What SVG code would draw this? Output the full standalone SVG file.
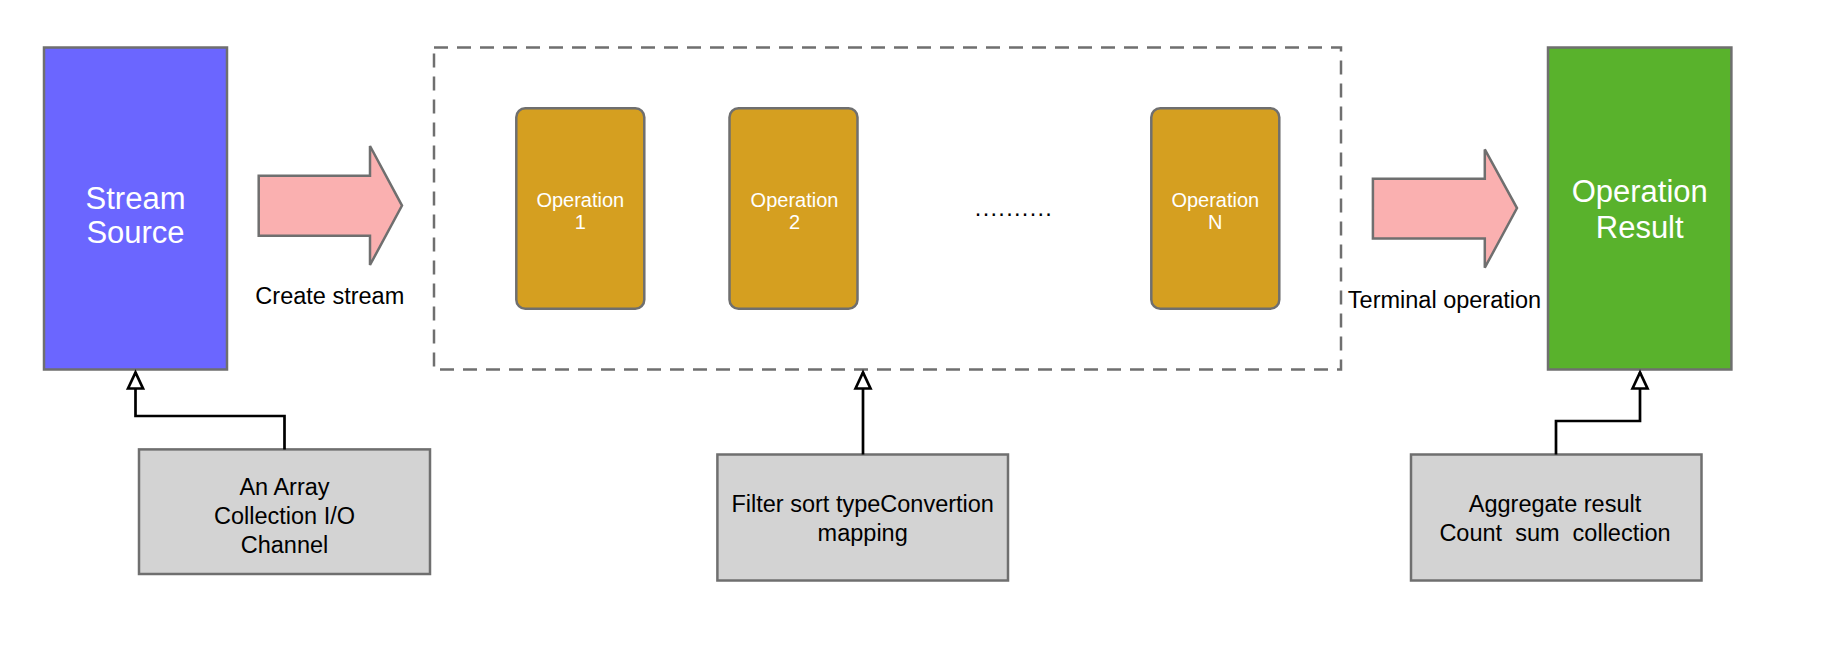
<svg xmlns="http://www.w3.org/2000/svg" width="1822" height="658" viewBox="0 0 1822 658">
<style>
text{font-family:"Liberation Sans",Arial,Helvetica,sans-serif;text-anchor:middle}
.big{font-size:31px;fill:#ffffff}
.op{font-size:20px;fill:#ffffff}
.lbl{font-size:23.5px;fill:#000000}
.box{stroke:#6f6f6f;stroke-width:2.5}
.src{fill:#6b66ff}
.res{fill:#59b22c}
.opbox{fill:#d59f20}
.note{fill:#d3d3d3}
.fat{fill:#fab0b0;stroke:#6f6f6f;stroke-width:2.5;stroke-linejoin:miter}
.conn{fill:none;stroke:#000000;stroke-width:2.7}
</style>
<defs>
<marker id="open" markerUnits="userSpaceOnUse" markerWidth="24" markerHeight="24" viewBox="-2 -10 24 20" refX="17" refY="0" orient="auto">
<path d="M1,-7.5 L17,0 L1,7.5 Z" fill="#ffffff" stroke="#000000" stroke-width="2.7" stroke-linejoin="miter"/>
</marker>
</defs>
<rect width="1822" height="658" fill="#ffffff"/>
<g id="pipeline">
<rect x="434" y="47.5" width="907" height="322" fill="none" stroke="#6f6f6f" stroke-width="2.5" stroke-dasharray="14 9"/>
</g>
<g id="stream-source">
<rect class="box src" x="44" y="47.5" width="183" height="322"/>
<text class="big" x="135.5" y="208.6">Stream</text>
<text class="big" x="135.5" y="243.4">Source</text>
</g>
<g id="op1">
<rect class="box opbox" x="516.3" y="108.3" width="128" height="200.5" rx="9"/>
<text class="op" x="580.3" y="206.5">Operation</text>
<text class="op" x="580.3" y="228.7">1</text>
</g>
<g id="op2">
<rect class="box opbox" x="729.5" y="108.3" width="128" height="200.5" rx="9"/>
<text class="op" x="794.5" y="206.5">Operation</text>
<text class="op" x="794.5" y="228.7">2</text>
</g>
<g id="dots">
<text class="lbl" x="1014" y="215.5" style="letter-spacing:1.3px">..........</text>
</g>
<g id="opN">
<rect class="box opbox" x="1151.3" y="108.3" width="128" height="200.5" rx="9"/>
<text class="op" x="1215.3" y="206.5">Operation</text>
<text class="op" x="1215.3" y="228.7">N</text>
</g>
<g id="operation-result">
<rect class="box res" x="1548" y="47.5" width="183.4" height="322"/>
<text class="big" x="1639.7" y="202">Operation</text>
<text class="big" x="1639.7" y="237.5">Result</text>
</g>
<g id="create-stream">
<polygon class="fat" points="258.7,175.8 370,175.8 370,146 402,205.6 370,265 370,235.8 258.7,235.8"/>
<text class="lbl" x="329.8" y="304">Create stream</text>
</g>
<g id="terminal-operation">
<polygon class="fat" points="1372.9,178.8 1484.8,178.8 1484.8,149.4 1517,208.1 1484.8,267.7 1484.8,238.4 1372.9,238.4"/>
<text class="lbl" x="1444.5" y="307.6">Terminal operation</text>
</g>
<g id="sources-note">
<rect class="box note" x="139" y="449.4" width="291" height="124.6"/>
<text class="lbl" x="284.5" y="495">An Array</text>
<text class="lbl" x="284.5" y="524">Collection I/O</text>
<text class="lbl" x="284.5" y="553">Channel</text>
</g>
<g id="ops-note">
<rect class="box note" x="717.4" y="454.5" width="290.6" height="126"/>
<text class="lbl" x="862.7" y="512">Filter sort typeConvertion</text>
<text class="lbl" x="862.7" y="540.5">mapping</text>
</g>
<g id="result-note">
<rect class="box note" x="1411" y="454.5" width="290.5" height="126"/>
<text class="lbl" x="1555" y="512">Aggregate result</text>
<text class="lbl" x="1555" y="541" xml:space="preserve">Count  sum  collection</text>
</g>
<g id="connectors">
<path class="conn" d="M284.5,449.4 V416 H135.5 V372.5" marker-end="url(#open)"/>
<path class="conn" d="M863,454.5 V372.5" marker-end="url(#open)"/>
<path class="conn" d="M1556,454.5 V421 H1640 V372.5" marker-end="url(#open)"/>
</g>
</svg>
